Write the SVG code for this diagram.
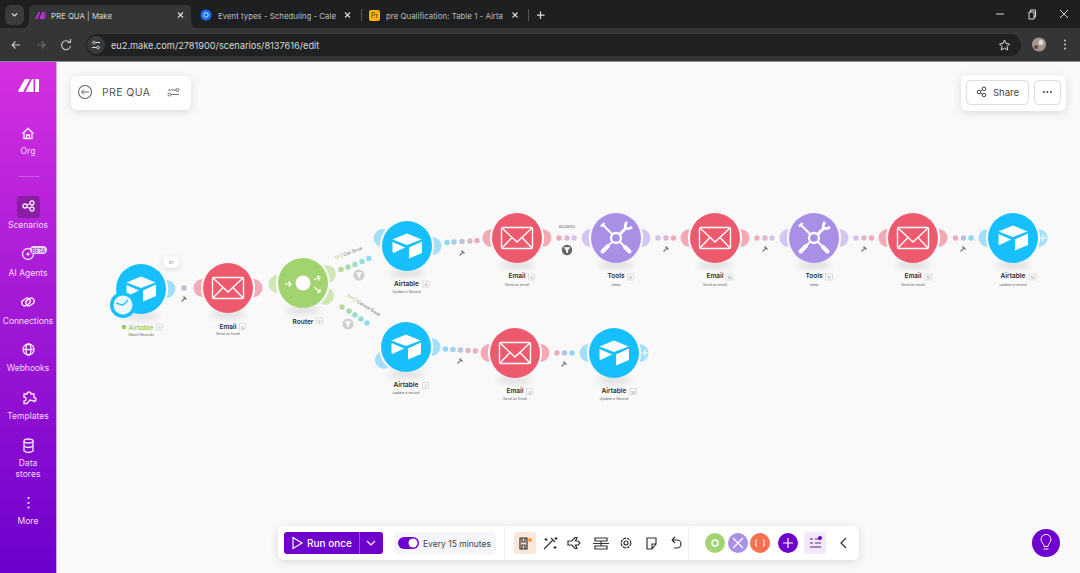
<svg xmlns="http://www.w3.org/2000/svg" width="1080" height="573" viewBox="0 0 1080 573">
<style>
text{font-family:"Inter","Liberation Sans",sans-serif}
.nm{font-size:6.5px;font-weight:600;fill:#2d2d35;text-anchor:middle}
.sb{font-size:3.6px;fill:#666;text-anchor:middle}
.id{font-size:4px;fill:#888;text-anchor:middle}
.box{fill:#fafafa;stroke:#ccc;stroke-width:.6}
.side{font-size:8.5px;fill:#f6dcfb;text-anchor:middle}
.tab{font-size:8px;fill:#bdbdbd}
.tb{fill:none;stroke:#333;stroke-width:1.2}
.si{fill:none;stroke:#fbe9fd;stroke-width:1.3}
.x{stroke:#ddd;stroke-width:1.1;fill:none}
.a{fill:#18bfff}.ae{fill:#a3dffa}
.m{fill:#ed5a6e}.me{fill:#f3aab4}
.t{fill:#a990e6}.te{fill:#d3c7f2}
.r{fill:#a1d36e}.re{fill:#cfe7b4}
.shadow{fill:#000;opacity:.1;filter:url(#bl)}
</style>
<defs>
<linearGradient id="sg" x1="0" y1="0" x2="0" y2="1"><stop offset="0" stop-color="#d530e0"/><stop offset="1" stop-color="#6d00cc"/></linearGradient>
<filter id="bl" x="-50%" y="-100%" width="200%" height="300%"><feGaussianBlur stdDeviation="3"/></filter>
<filter id="cs" x="-20%" y="-30%" width="140%" height="170%"><feDropShadow dx="0" dy="2" stdDeviation="4" flood-color="#000" flood-opacity=".12"/></filter>
<path id="ear" d="M25.500-9A9 9 0 0 1 25.500 9A27 27 0 0 0 25.500-9Z"/>
<g id="boxi" fill="#fff"><path d="M0-12.500L-14.500-6.500L0-1L14.500-6.500Z"/><path d="M-14.500-4L-2 1.500L-13.500 7L-14.500 6Z"/><path d="M2 1.500L15-4.500V7L2 12.500Z"/></g>
<g id="mail" fill="none" stroke="#fff" stroke-width="1.400"><rect x="-15.500" y="-10.500" width="31" height="21" rx="1.500"/><path d="M-15-10L0 4L15-10M-15 10L-5-.5M15 10L5-.5"/></g>
<g id="tool" stroke="#fff" fill="none"><circle r="5" stroke-width="2.300"/><path d="M-4-4L-13-13" stroke-width="2"/><path d="M-15-11.500L-11.500-15" stroke-width="2.400"/><path d="M4 4L8 8" stroke-width="2"/><path d="M9 9L13.500 13.500M-8 8L-13.500 13.500" stroke-width="4" stroke-linecap="round"/><path d="M-4 4L-8 8" stroke-width="2"/><path d="M4-4L10-10" stroke-width="3"/><path d="M11-16A6 6 0 0 0 9.500-10A6 6 0 0 0 16-11" stroke-width="2.600"/></g>
<g id="wr"><path d="M-2.500 2.500L1-1" stroke="#777" stroke-width="1.100"/><path d="M-.5-2.500L2.500.5" stroke="#777" stroke-width="1.500"/></g>
<path id="fn" d="M-3.200-2.800H3.200L.9.500V3.200L-.9 2.200V.5Z" fill="#fff"/>
</defs>

<rect width="1080" height="573" fill="#f9f9f9"/>

<g id="browser">
<rect width="1080" height="28" fill="#1e1f20"/>
<rect x="5" y="5" width="19" height="20" rx="6" fill="#3a3b3d"/><path d="M12 13.500L14.500 16L17 13.500" fill="none" stroke="#ddd" stroke-width="1.200"/>
<path d="M24 28Q29 27 29 20V10Q29 5 35 5H186Q191 5 191 10V20Q191 27 196 28Z" fill="#333537"/>
<path d="M35 19L38.500 12H40.500L37 19ZM39 19L42.500 12H44V19ZM44.500 12H45.500V19H44.500Z" fill="#c32fe0"/>
<text x="51" y="18.500" class="tab" style="fill:#d8d8d8" textLength="61" lengthAdjust="spacingAndGlyphs">PRE QUA | Make</text>
<path d="M178 12.500L183 17.500M183 12.500L178 17.500" class="x"/>
<circle cx="206" cy="15" r="5.500" fill="#1a6ef0"/><circle cx="206" cy="15" r="2.300" fill="none" stroke="#cfe2ff"/>
<text x="218" y="18.500" class="tab" textLength="118" lengthAdjust="spacingAndGlyphs">Event types - Scheduling - Cale</text>
<path d="M345 12.500L350 17.500M350 12.500L345 17.500" class="x"/>
<rect x="361" y="9" width="1" height="12" fill="#555"/>
<rect x="369" y="10" width="11" height="11" rx="2" fill="#fcb400"/><text x="374.500" y="18" font-size="7" text-anchor="middle" fill="#5a3b00">Pr</text>
<text x="386" y="18.500" class="tab" textLength="117" lengthAdjust="spacingAndGlyphs">pre Qualification: Table 1 - Airta</text>
<path d="M512.500 12.500L517.500 17.500M517.500 12.500L512.500 17.500" class="x"/>
<rect x="528" y="9" width="1" height="12" fill="#555"/>
<path d="M540.500 11.500V19M537 15.200H544.500" stroke="#ddd" stroke-width="1.200"/>
<path d="M996 14H1004M1029 12H1034V19H1029ZM1030.500 12V10H1035.500V17H1034M1060 10L1068 18M1068 10L1060 18" fill="none" stroke="#ddd" stroke-width="1"/>
<rect y="28" width="1080" height="33" fill="#333537"/>
<rect y="61" width="1080" height="1" fill="#8b8b8b"/>
<rect x="86" y="34" width="935" height="22" rx="11" fill="#202122"/>
<path d="M20 45H12M15.500 41.500L12 45L15.500 48.500" fill="none" stroke="#ccc" stroke-width="1.100"/>
<path d="M37 45H45M41.500 41.500L45 45L41.500 48.500" fill="none" stroke="#6b6b6b" stroke-width="1.100"/>
<path d="M70 43A4.500 4.500 0 1 0 70.500 46M67.500 42.500H70.500V39" fill="none" stroke="#ccc" stroke-width="1.100"/>
<circle cx="96" cy="45" r="9" fill="#3a3b3d"/><path d="M92 42.500H100M92 47.500H100" stroke="#ddd" stroke-width="1.100"/><circle cx="94" cy="42.500" r="1.300" fill="#3a3b3d" stroke="#ddd" stroke-width=".8"/><circle cx="98" cy="47.500" r="1.300" fill="#3a3b3d" stroke="#ddd" stroke-width=".8"/>
<text x="111" y="48.500" font-size="9.200" fill="#d8d8d8">eu2.make.com/2781900/scenarios/8137616/edit</text>
<path d="M1004.500 40L1006 43.500L1009.500 44L1007 46.500L1007.700 50L1004.500 48.200L1001.300 50L1002 46.500L999.500 44L1003 43.500Z" fill="none" stroke="#ddd" stroke-width="1"/>
<circle cx="1039" cy="44.500" r="7" fill="#a8958c"/><circle cx="1041" cy="42.500" r="2.500" fill="#e4dcd8"/><circle cx="1036" cy="47" r="2" fill="#5b4a45"/>
<circle cx="1065" cy="40.500" r="1" fill="#ccc"/><circle cx="1065" cy="44.500" r="1" fill="#ccc"/><circle cx="1065" cy="48.500" r="1" fill="#ccc"/>
</g>

<g id="sidebar">
<rect y="62" width="56" height="511" fill="url(#sg)"/>
<rect x="56" y="62" width="1" height="511" fill="#dba6ef"/>
<path d="M18 91L25 79H30L23 92H19ZM25.500 92L32 79H33.500V92ZM35 79H39V92H35Z" fill="#fff"/>
<path class="si" d="M22.500 133.500L28 128.500L33.500 133.500M24 132V138.500H32V132M26.500 138.500V135H29.500V138.500"/>
<text x="28" y="154" class="side">Org</text>
<rect x="19" y="176" width="20" height="1" fill="#fff" opacity=".25"/>
<rect x="17" y="196" width="23" height="22" rx="4" fill="#8a1fa5"/>
<g class="si"><circle cx="25" cy="206" r="2"/><circle cx="32" cy="203" r="2"/><circle cx="32" cy="209" r="2"/><path d="M27 205L30 203.500M27 207L30 208.500"/></g>
<text x="28" y="228" class="side">Scenarios</text>
<circle cx="28" cy="254" r="5.500" class="si"/><circle cx="28" cy="254" r="1.500" fill="#fbe9fd"/>
<rect x="30" y="246" width="17" height="8" rx="4" fill="#ecd3f5"/><text x="38.500" y="252.500" font-size="5.500" text-anchor="middle" fill="#7a2a9c">BETA</text>
<text x="28" y="276" class="side">AI Agents</text>
<g class="si"><rect x="21.500" y="299" width="9" height="6" rx="3" transform="rotate(-35 26 302)"/><rect x="25.500" y="299" width="9" height="6" rx="3" transform="rotate(-35 30 302)"/></g>
<text x="28" y="324" class="side">Connections</text>
<g class="si"><circle cx="28.500" cy="349.500" r="5.500"/><ellipse cx="28.500" cy="349.500" rx="2.500" ry="5.500"/><path d="M23 349.500H34"/></g>
<text x="28" y="371" class="side">Webhooks</text>
<path class="si" d="M24 394H27A2 2 0 0 1 31 394H34V397.500A2 2 0 0 1 34 401.500V401L30 400L27 403.500H24V401A2 2 0 0 0 24 397Z"/>
<text x="28" y="419" class="side">Templates</text>
<g class="si"><ellipse cx="28.500" cy="441" rx="4.500" ry="2"/><path d="M24 441V451Q28.500 454 33 451V441M24 446Q28.500 449 33 446"/></g>
<text x="28" y="466" class="side">Data</text><text x="28" y="477" class="side">stores</text>
<circle cx="28.500" cy="498" r="1.100" fill="#fbe9fd"/><circle cx="28.500" cy="503" r="1.100" fill="#fbe9fd"/><circle cx="28.500" cy="507.500" r="1.100" fill="#fbe9fd"/>
<text x="28" y="524" class="side">More</text>
</g>

<g id="title-card">
<rect x="71" y="76" width="120" height="34" rx="6" fill="#fff" filter="url(#cs)"/>
<circle cx="85" cy="92" r="6.500" fill="none" stroke="#666" stroke-width="1.100"/>
<path d="M89 92H81.500M84 89.500L81.500 92L84 94.500" fill="none" stroke="#666" stroke-width="1"/>
<text x="102" y="96" font-size="10.500" letter-spacing=".4" fill="#555">PRE QUA</text>
<path d="M168 90H176M171 94.500H179" stroke="#666" stroke-width=".9"/>
<circle cx="177.500" cy="90" r="1.500" fill="#fff" stroke="#666" stroke-width=".9"/><circle cx="169.500" cy="94.500" r="1.500" fill="#fff" stroke="#666" stroke-width=".9"/>
</g>

<g id="share-card">
<rect x="961" y="75" width="105" height="36" rx="6" fill="#fff" filter="url(#cs)"/>
<rect x="966.500" y="80.500" width="62" height="24" rx="4" fill="#fff" stroke="#dcdcdc"/>
<rect x="1034.500" y="80.500" width="26" height="24" rx="4" fill="#fff" stroke="#dcdcdc"/>
<g fill="none" stroke="#444"><circle cx="979" cy="92" r="1.800"/><circle cx="984" cy="88.800" r="1.800"/><circle cx="984" cy="95" r="1.800"/><path d="M980.500 91L982.500 89.700M980.500 93L982.500 94.200"/></g>
<text x="993" y="95.500" font-size="9.500" fill="#444">Share</text>
<circle cx="1044" cy="92" r=".9" fill="#333"/><circle cx="1047.500" cy="92" r=".9" fill="#333"/><circle cx="1051" cy="92" r=".9" fill="#333"/>
</g>

<g id="connectors">
<circle cx="184" cy="288" r="2.700" fill="#b9bdd6"/>
<circle cx="341" cy="269.500" r="2.700" fill="#b5dba0"/><circle cx="348" cy="267" r="2.700" fill="#a8dcb0"/><circle cx="355" cy="264.500" r="2.700" fill="#9fdcc6"/><circle cx="362" cy="261.500" r="2.700" fill="#96dcdc"/><circle cx="369" cy="258.500" r="2.700" fill="#8fdcec"/>
<circle cx="342" cy="307" r="2.700" fill="#b5dba0"/><circle cx="349" cy="311" r="2.700" fill="#a8dcb0"/><circle cx="355" cy="315" r="2.700" fill="#9fdcc6"/><circle cx="361" cy="319" r="2.700" fill="#96dcdc"/><circle cx="367" cy="323" r="2.700" fill="#8fdcec"/>
<circle cx="447" cy="242.500" r="2.700" fill="#8fd6f6"/><circle cx="454" cy="242" r="2.700" fill="#a4cfeb"/><circle cx="462" cy="241.500" r="2.700" fill="#b9c4de"/><circle cx="470" cy="241" r="2.700" fill="#d8b8cb"/><circle cx="477" cy="240.500" r="2.700" fill="#e9aebb"/>
<circle cx="559" cy="238" r="2.700" fill="#efa9b9"/><circle cx="567" cy="238" r="2.700" fill="#deb4d0"/><circle cx="574" cy="238" r="2.700" fill="#d5c2ea"/>
<circle cx="658" cy="238" r="2.700" fill="#d5c2ea"/><circle cx="666" cy="238" r="2.700" fill="#deb4d0"/><circle cx="673.500" cy="238" r="2.700" fill="#efa9b9"/>
<circle cx="757" cy="238" r="2.700" fill="#efa9b9"/><circle cx="765" cy="238" r="2.700" fill="#deb4d0"/><circle cx="772" cy="238" r="2.700" fill="#d5c2ea"/>
<circle cx="856" cy="238" r="2.700" fill="#d5c2ea"/><circle cx="864" cy="238" r="2.700" fill="#deb4d0"/><circle cx="871.500" cy="238" r="2.700" fill="#efa9b9"/>
<circle cx="955.500" cy="238" r="2.700" fill="#efa9b9"/><circle cx="963.500" cy="238" r="2.700" fill="#b9c0de"/><circle cx="971" cy="238" r="2.700" fill="#8fd6f6"/>
<circle cx="445.500" cy="349" r="2.700" fill="#8fd6f6"/><circle cx="453" cy="349.500" r="2.700" fill="#a4cfeb"/><circle cx="460.500" cy="350" r="2.700" fill="#b9c4de"/><circle cx="468" cy="350.500" r="2.700" fill="#d8b8cb"/><circle cx="475.500" cy="351" r="2.700" fill="#e9aebb"/>
<circle cx="557" cy="353" r="2.700" fill="#efa9b9"/><circle cx="564.500" cy="353" r="2.700" fill="#b9c0de"/><circle cx="572" cy="353" r="2.700" fill="#8fd6f6"/>
<use href="#wr" x="184" y="299"/><use href="#wr" x="462" y="253"/><use href="#wr" x="666" y="249"/><use href="#wr" x="765" y="249"/><use href="#wr" x="864" y="249"/><use href="#wr" x="963" y="249"/><use href="#wr" x="460" y="361"/><use href="#wr" x="564" y="364"/>
<circle cx="359" cy="275" r="5.500" fill="#cfcfcf"/><use href="#fn" x="359" y="275"/>
<circle cx="348" cy="324" r="5.500" fill="#cfcfcf"/><use href="#fn" x="348" y="324"/>
<circle cx="567" cy="250" r="5.200" fill="#666"/><use href="#fn" x="567" y="250"/>
<text x="567" y="228" font-size="3.800" fill="#555" text-anchor="middle">BOOKED</text>
<text transform="translate(335 259.500) rotate(-20)" font-size="4.400" fill="#666"><tspan fill="#9ccb62">1st</tspan> | Can Book</text>
<text transform="translate(346.500 296) rotate(32)" font-size="4.400" fill="#666"><tspan fill="#9ccb62">2nd</tspan> | Cannot Book</text>
<rect x="163" y="256.500" width="16" height="11" rx="5.500" fill="#fff" filter="url(#cs)"/><text x="171" y="263.500" font-size="3.800" fill="#666" text-anchor="middle">#1</text>
</g>

<g id="n1"><ellipse cx="141" cy="316" rx="18" ry="4" class="shadow"/><use href="#ear" x="141" y="289" class="ae"/><circle cx="141" cy="289" r="25" class="a"/><use href="#boxi" x="141" y="289"/>
<circle cx="123" cy="305" r="13" class="a"/><circle cx="123" cy="305" r="9.500" fill="#eaf9ff"/><path d="M123 305L128 300M123 305L116 303" stroke="#18bfff" stroke-width="1.300"/>
<circle cx="124" cy="327" r="2.300" fill="#9ccb62"/><text x="141" y="329.500" class="nm" style="fill:#9ccb62">Airtable</text><rect x="156.500" y="324" width="6" height="6" class="box"/><text x="159.500" y="329" class="id">1</text><text x="141" y="335.500" class="sb">Watch Records</text></g>

<g id="n5"><ellipse cx="228" cy="315" rx="18" ry="4" class="shadow"/><use href="#ear" transform="translate(228 288) rotate(180)" class="me"/><use href="#ear" x="228" y="288" class="me"/><circle cx="228" cy="288" r="25" class="m"/><use href="#mail" x="228" y="288"/>
<text x="228" y="328.500" class="nm">Email</text><rect x="239.500" y="323.500" width="6" height="6" class="box"/><text x="242.500" y="328.500" class="id">5</text><text x="228" y="335" class="sb">Send an Email</text></g>

<g id="router"><ellipse cx="303" cy="310" rx="18" ry="4" class="shadow"/><use href="#ear" transform="translate(303 284) rotate(180)" class="re"/><use href="#ear" transform="translate(303 283) rotate(-20)" class="re"/><use href="#ear" transform="translate(303 283) rotate(30)" class="re"/><circle cx="303" cy="283" r="25" class="r"/><circle cx="303" cy="283" r="7.500" fill="#fff"/>
<path d="M285 284H291M288.500 281.500L291 284L288.500 286.500M314 279.500L320 277.500M317 275.500L320 277.500L318.500 280.500M314 287L320 292M317 292.500L320 292L320 289" fill="none" stroke="#fff" stroke-width="1.200"/>
<text x="303" y="323.500" class="nm">Router</text><rect x="316.500" y="318" width="6" height="6" class="box"/><text x="319.500" y="323" class="id">2</text></g>

<g id="n6"><ellipse cx="407" cy="273" rx="18" ry="4" class="shadow"/><use href="#ear" transform="translate(407 246) rotate(198)" class="ae"/><use href="#ear" x="407" y="246" class="ae"/><circle cx="407" cy="246" r="25" class="a"/><use href="#boxi" x="407" y="246"/>
<text x="406.500" y="285.500" class="nm">Airtable</text><rect x="423" y="281" width="6" height="6" class="box"/><text x="426" y="286" class="id">6</text><text x="406.500" y="292.500" class="sb">Update a Record</text></g>

<g id="n7"><ellipse cx="406" cy="374" rx="18" ry="4" class="shadow"/><use href="#ear" transform="translate(406 347) rotate(150)" class="ae"/><use href="#ear" x="406" y="347" class="ae"/><circle cx="406" cy="347" r="25" class="a"/><use href="#boxi" x="406" y="347"/>
<text x="406" y="387" class="nm">Airtable</text><rect x="422.500" y="382.500" width="6" height="6" class="box"/><text x="425.500" y="387.500" class="id">7</text><text x="406" y="394" class="sb">update a record</text></g>

<g id="n3"><ellipse cx="517" cy="265" rx="18" ry="4" class="shadow"/><use href="#ear" transform="translate(517 238) rotate(180)" class="me"/><use href="#ear" x="517" y="238" class="me"/><circle cx="517" cy="238" r="25" class="m"/><use href="#mail" x="517" y="238"/>
<text x="517" y="278" class="nm">Email</text><rect x="528.500" y="274" width="6" height="6" class="box"/><text x="531.500" y="279" class="id">3</text><text x="517" y="285.500" class="sb">Send an email</text></g>

<g id="n9"><ellipse cx="616" cy="265" rx="18" ry="4" class="shadow"/><use href="#ear" transform="translate(616 238) rotate(180)" class="te"/><use href="#ear" x="616" y="238" class="te"/><circle cx="616" cy="238" r="25" class="t"/><use href="#tool" x="616" y="238"/>
<text x="616" y="278" class="nm">Tools</text><rect x="627.500" y="274" width="6" height="6" class="box"/><text x="630.500" y="279" class="id">9</text><text x="616" y="285.500" class="sb">sleep</text></g>

<g id="n10"><ellipse cx="715" cy="265" rx="18" ry="4" class="shadow"/><use href="#ear" transform="translate(715 238) rotate(180)" class="me"/><use href="#ear" x="715" y="238" class="me"/><circle cx="715" cy="238" r="25" class="m"/><use href="#mail" x="715" y="238"/>
<text x="715" y="278" class="nm">Email</text><rect x="726" y="274" width="7" height="6" class="box"/><text x="729.500" y="279" class="id">10</text><text x="715" y="285.500" class="sb">Send an email</text></g>

<g id="n11"><ellipse cx="814" cy="265" rx="18" ry="4" class="shadow"/><use href="#ear" transform="translate(814 238) rotate(180)" class="te"/><use href="#ear" x="814" y="238" class="te"/><circle cx="814" cy="238" r="25" class="t"/><use href="#tool" x="814" y="238"/>
<text x="814" y="278" class="nm">Tools</text><rect x="825.500" y="274" width="7" height="6" class="box"/><text x="829" y="279" class="id">11</text><text x="814" y="285.500" class="sb">sleep</text></g>

<g id="n12"><ellipse cx="913" cy="265" rx="18" ry="4" class="shadow"/><use href="#ear" transform="translate(913 238) rotate(180)" class="me"/><use href="#ear" x="913" y="238" class="me"/><circle cx="913" cy="238" r="25" class="m"/><use href="#mail" x="913" y="238"/>
<text x="913" y="278" class="nm">Email</text><rect x="925" y="274" width="7" height="6" class="box"/><text x="928.500" y="279" class="id">12</text><text x="913" y="285.500" class="sb">Send an email</text></g>

<g id="n13"><ellipse cx="1013" cy="265" rx="18" ry="4" class="shadow"/><use href="#ear" transform="translate(1013 238) rotate(180)" class="ae"/><use href="#ear" x="1013" y="238" class="ae"/><circle cx="1013" cy="238" r="25" class="a"/><use href="#boxi" x="1013" y="238"/>
<path d="M1043 234.500V241.500M1039.500 238H1046.500" stroke="#fff" stroke-width="1"/>
<text x="1013" y="278" class="nm">Airtable</text><rect x="1029" y="274" width="7" height="6" class="box"/><text x="1032.500" y="279" class="id">13</text><text x="1013" y="285.500" class="sb">update a record</text></g>

<g id="n4"><ellipse cx="515" cy="380" rx="18" ry="4" class="shadow"/><use href="#ear" transform="translate(515 353) rotate(180)" class="me"/><use href="#ear" x="515" y="353" class="me"/><circle cx="515" cy="353" r="25" class="m"/><use href="#mail" x="515" y="353"/>
<text x="515" y="393" class="nm">Email</text><rect x="526.500" y="388.500" width="6" height="6" class="box"/><text x="529.500" y="393.500" class="id">4</text><text x="515" y="400" class="sb">Send an Email</text></g>

<g id="n14"><ellipse cx="614" cy="380" rx="18" ry="4" class="shadow"/><use href="#ear" transform="translate(614 353) rotate(180)" class="ae"/><use href="#ear" x="614" y="353" class="ae"/><circle cx="614" cy="353" r="25" class="a"/><use href="#boxi" x="614" y="353"/>
<path d="M645 349.500V356.500M641.500 353H648.500" stroke="#fff" stroke-width="1"/>
<text x="614" y="393" class="nm">Airtable</text><rect x="629.500" y="388.500" width="7" height="6" class="box"/><text x="633" y="393.500" class="id">14</text><text x="614" y="400" class="sb">Update a Record</text></g>

<g id="toolbar">
<rect x="278" y="526" width="581" height="34" rx="6" fill="#fff" filter="url(#cs)"/>
<rect x="284" y="532" width="99" height="22" rx="3" fill="#6d00cc"/>
<path d="M293 537.500L302 543L293 548.500Z" fill="none" stroke="#fff" stroke-width="1.200"/>
<text x="307" y="547" font-size="10" font-weight="500" fill="#fff">Run once</text>
<rect x="359" y="532" width="1" height="22" fill="#9a52dc"/>
<path d="M367 541L371 545L375 541" fill="none" stroke="#fff" stroke-width="1.200"/>
<rect x="394" y="532" width="102" height="22" rx="5" fill="#f4f5f8"/>
<rect x="398" y="537" width="21" height="12" rx="6" fill="#6d00cc"/><circle cx="413" cy="543" r="4.500" fill="#fff"/>
<text x="423" y="546.500" font-size="8.500" fill="#444">Every 15 minutes</text>
<rect x="504" y="526" width="1" height="34" fill="#eee"/>
<rect x="514" y="532" width="22" height="22" rx="3" fill="#fbe7d8"/>
<g class="tb"><path d="M520 538H527V549H520ZM522 538V542H525V538M522 549V545H525V549"/></g><circle cx="530" cy="540" r="2" fill="#f59a3c"/>
<g class="tb"><path d="M544 549L553 540M551 538L555 542M556 537V540M554.500 538.500H557.500M555 546V549M553.500 547.500H556.500M546 538V541M544.500 539.500H547.500"/><path d="M568 541H572L575 537.500H577L575.500 541H578L580 543L578 545H575.500L577 548.500H575L572 545H568Z"/><path d="M595 538H607V541H595ZM595 546H607V549H595ZM601 541V546M593 543.500H609"/><circle cx="626" cy="543" r="2"/><circle cx="626" cy="543" r="4.800" stroke-dasharray="3 .8"/><path d="M647 538H656V544L652 549H647ZM652 549V544H656"/><path d="M672 540L675 537M672 540L675 543M672 540H677A4 4 0 0 1 677 548H674"/></g>
<rect x="688" y="526" width="1" height="34" fill="#eee"/>
<circle cx="715" cy="543" r="10" fill="#a1d36e"/><circle cx="715" cy="543" r="3" fill="none" stroke="#fff" stroke-width="1.500"/>
<circle cx="738" cy="543" r="10" fill="#a990e6"/><path d="M733 538L743 548M743 538L733 548" stroke="#fff" stroke-width="1.300"/>
<circle cx="760" cy="543" r="10" fill="#f87050"/><path d="M757 540H756V546H757M763 540H764V546H763" fill="none" stroke="#fff" stroke-width="1"/>
<circle cx="788" cy="543" r="10" fill="#6d00cc"/><path d="M788 538V548M783 543H793" stroke="#fff" stroke-width="1.200"/>
<rect x="804" y="532" width="22" height="22" rx="3" fill="#f3e8fb"/><path d="M810 539H813M815 539H819M810 543H813M815 543H821M810 547H821" stroke="#4a2a7a" stroke-width="1.200"/><circle cx="820" cy="538" r="2" fill="#6d00cc"/>
<path d="M846 538L841 543L846 548" fill="none" stroke="#333" stroke-width="1.200"/>
</g>

<g id="help"><circle cx="1046" cy="543" r="14" fill="#6d00cc"/><path d="M1043.500 549H1048.500M1044 546.500Q1044 544.500 1042.500 543A5 5 0 1 1 1049.500 543Q1048 544.500 1048 546.500Z" fill="none" stroke="#fff" stroke-width="1"/></g>
</svg>
